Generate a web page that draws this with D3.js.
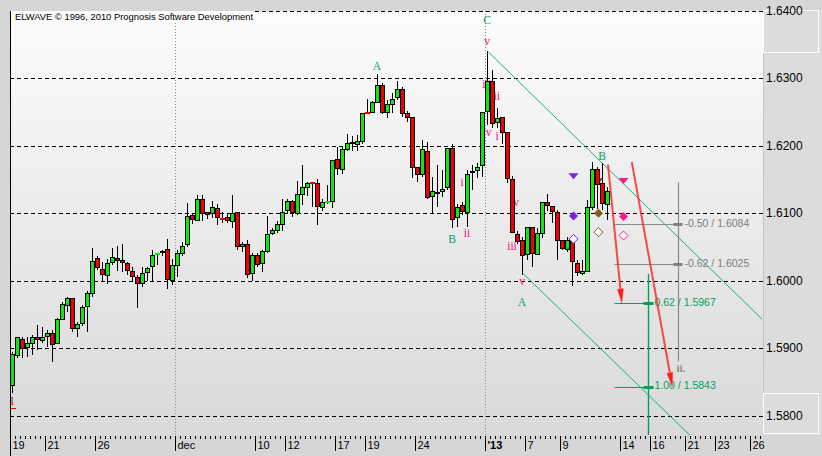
<!DOCTYPE html>
<html>
<head>
<meta charset="utf-8">
<script src="https://cdn.jsdelivr.net/npm/d3@7"></script>
<style>
    body { margin: 0; background: #d6d6d6; }
    svg { display: block; }
</style>
</head>
<body>
<div id="chart"></div>
<script>
// 8-hour bars
const opens = [
    1.5844, 1.5889, 1.5913, 1.5901, 1.5907, 1.5916, 1.5911, 1.5917, 1.5922, 1.5907,
    1.5943, 1.5963, 1.5974, 1.5929, 1.5937, 1.5961, 1.5981, 1.6033, 1.6017, 1.6007,
    1.6027, 1.6033, 1.6030, 1.6026, 1.6014, 1.6004, 1.5996, 1.6012, 1.6021, 1.6040,
    1.6044, 1.6046, 1.6000, 1.6022, 1.6040, 1.6053, 1.6096, 1.6089, 1.6121, 1.6101,
    1.6099, 1.6107, 1.6093, 1.6093, 1.6088, 1.6101, 1.6050, 1.6054, 1.6010, 1.6037,
    1.6026, 1.6043, 1.6070, 1.6074, 1.6084, 1.6104, 1.6117, 1.6100, 1.6128, 1.6138,
    1.6146, 1.6144, 1.6109, 1.6117, 1.6117, 1.6179, 1.6165, 1.6195, 1.6205, 1.6202,
    1.6206, 1.6250, 1.6250, 1.6265, 1.6290, 1.6250, 1.6262, 1.6271, 1.6283, 1.6248,
    1.6242, 1.6168, 1.6158, 1.6192, 1.6125, 1.6132, 1.6132, 1.6138, 1.6196, 1.6093,
    1.6111, 1.6101, 1.6162, 1.6164, 1.6171, 1.6251, 1.6296, 1.6234, 1.6242, 1.6220,
    1.6150, 1.6069, 1.6059, 1.6039, 1.6079, 1.6039, 1.6070, 1.6116, 1.6110, 1.6101,
    1.6059, 1.6046, 1.6059, 1.6026, 1.6011, 1.6013, 1.6109, 1.6165, 1.6144, 1.6113
];
const highs = [
    1.5894, 1.5917, 1.5917, 1.5916, 1.5919, 1.5934, 1.5931, 1.5927, 1.5927, 1.5944,
    1.5968, 1.5976, 1.5975, 1.5939, 1.5964, 1.5985, 1.6049, 1.6037, 1.6027, 1.6032,
    1.6048, 1.6051, 1.6054, 1.6028, 1.6021, 1.6008, 1.6021, 1.6021, 1.6046, 1.6041,
    1.6046, 1.6062, 1.6032, 1.6046, 1.6058, 1.6115, 1.6099, 1.6127, 1.6127, 1.6102,
    1.6118, 1.6114, 1.6102, 1.6099, 1.6127, 1.6101, 1.6058, 1.6060, 1.6041, 1.6041,
    1.6045, 1.6096, 1.6078, 1.6088, 1.6121, 1.6121, 1.6120, 1.6148, 1.6172, 1.6147,
    1.6147, 1.6151, 1.6121, 1.6142, 1.6178, 1.6198, 1.6199, 1.6218, 1.6215, 1.6216,
    1.6249, 1.6269, 1.6267, 1.6306, 1.6293, 1.6268, 1.6279, 1.6296, 1.6288, 1.6251,
    1.6243, 1.6169, 1.6209, 1.6206, 1.6154, 1.6172, 1.6164, 1.6196, 1.6203, 1.6114,
    1.6117, 1.6164, 1.6172, 1.6174, 1.6250, 1.6340, 1.6312, 1.6256, 1.6242, 1.6220,
    1.6155, 1.6073, 1.6065, 1.6080, 1.6080, 1.6078, 1.6117, 1.6129, 1.6111, 1.6105,
    1.6060, 1.6065, 1.6059, 1.6031, 1.6031, 1.6120, 1.6176, 1.6169, 1.6174, 1.6139
];
const lows = [
    1.5833, 1.5886, 1.5885, 1.5887, 1.5889, 1.5897, 1.5907, 1.5901, 1.5880, 1.5906,
    1.5942, 1.5954, 1.5924, 1.5917, 1.5933, 1.5924, 1.5976, 1.6016, 1.5998, 1.5995,
    1.6023, 1.6015, 1.6013, 1.6008, 1.6000, 1.5960, 1.5991, 1.6000, 1.6000, 1.6023,
    1.6036, 1.5988, 1.5994, 1.6006, 1.6036, 1.6050, 1.6084, 1.6088, 1.6089, 1.6092,
    1.6093, 1.6082, 1.6085, 1.6085, 1.6078, 1.6045, 1.6042, 1.6004, 1.6000, 1.6021,
    1.6013, 1.6041, 1.6068, 1.6070, 1.6073, 1.6099, 1.6095, 1.6097, 1.6112, 1.6126,
    1.6110, 1.6083, 1.6104, 1.6113, 1.6108, 1.6157, 1.6158, 1.6193, 1.6193, 1.6193,
    1.6202, 1.6247, 1.6248, 1.6263, 1.6247, 1.6241, 1.6248, 1.6268, 1.6243, 1.6236,
    1.6153, 1.6147, 1.6154, 1.6121, 1.6101, 1.6109, 1.6124, 1.6134, 1.6078, 1.6080,
    1.6097, 1.6080, 1.6135, 1.6153, 1.6154, 1.6231, 1.6226, 1.6226, 1.6203, 1.6145,
    1.6072, 1.6055, 1.6008, 1.6031, 1.6021, 1.6038, 1.6063, 1.6104, 1.6085, 1.6030,
    1.6046, 1.6043, 1.5992, 1.6007, 1.6008, 1.6013, 1.6105, 1.6107, 1.6105, 1.6090
];
const closes = [
    1.5890, 1.5915, 1.5900, 1.5907, 1.5916, 1.5913, 1.5915, 1.5921, 1.5906, 1.5942,
    1.5964, 1.5973, 1.5929, 1.5935, 1.5960, 1.5981, 1.6029, 1.6020, 1.6009, 1.6025,
    1.6035, 1.6030, 1.6027, 1.6015, 1.6006, 1.5996, 1.6011, 1.6018, 1.6038, 1.6041,
    1.6044, 1.6002, 1.6023, 1.6040, 1.6050, 1.6095, 1.6091, 1.6120, 1.6100, 1.6098,
    1.6109, 1.6094, 1.6092, 1.6089, 1.6100, 1.6050, 1.6054, 1.6009, 1.6037, 1.6024,
    1.6043, 1.6068, 1.6074, 1.6083, 1.6101, 1.6118, 1.6101, 1.6128, 1.6138, 1.6144,
    1.6144, 1.6110, 1.6116, 1.6118, 1.6178, 1.6167, 1.6195, 1.6204, 1.6205, 1.6206,
    1.6248, 1.6248, 1.6264, 1.6289, 1.6250, 1.6261, 1.6268, 1.6284, 1.6248, 1.6242,
    1.6168, 1.6158, 1.6194, 1.6124, 1.6133, 1.6132, 1.6135, 1.6196, 1.6090, 1.6109,
    1.6102, 1.6158, 1.6162, 1.6168, 1.6250, 1.6296, 1.6233, 1.6241, 1.6220, 1.6152,
    1.6072, 1.6058, 1.6038, 1.6079, 1.6040, 1.6070, 1.6116, 1.6111, 1.6102, 1.6060,
    1.6048, 1.6060, 1.6028, 1.6012, 1.6014, 1.6109, 1.6165, 1.6143, 1.6115, 1.6133
];

// time axis: bar index of each labelled tick
const tickIndex = [0, 7, 17, 33, 49, 55, 65, 71, 81, 95, 103, 110, 122, 128, 135, 141, 148];
const tickLabels = ['19', '21', '26', 'dec', '10', '12', '17', '19', '24', "'13", '7', '9', '14', '16', '21', '23', '26'];
const separatorIndex = [33, 95];
const priceTicks = [1.58, 1.59, 1.60, 1.61, 1.62, 1.63, 1.64];

// Elliott wave labels: text, bar index, price, kind
const waveText  = ['A', 'B', 'C', 'v', 'iii', 'ii', 'iv', 'i', 'i', 'ii', 'v', 'iii', 'v', 'A', 'B'];
const waveIndex = [73, 88, 95, 95, 95, 97, 95, 97, 90, 91, 100.8, 100, 102, 102, 118];
const wavePrice = [1.6317, 1.6060, 1.6384, 1.6353, 1.6289, 1.6272, 1.6219, 1.6213, 1.6145, 1.6069, 1.6114, 1.6050, 1.5997, 1.5967, 1.6183];
const waveKind  = ['major', 'major', 'major', 'minor', 'minor', 'minor', 'minor', 'minor', 'minor', 'minor', 'minor', 'minor', 'minor', 'major', 'major'];

// channel lines: [index, price] pairs
const upperChannel = [[95.3, 1.6339], [150, 1.5943]];
const lowerChannel = [[102.3, 1.6010], [150, 1.5667]];

// target markers (triangle, filled diamond, hollow diamond) per column
const markerIndex = [112.3, 117.3, 122.3];
const markerTriangle = [1.6155, 1.6148, 1.6148];
const markerFilled = [1.6096, 1.6100, 1.6095];
const markerHollow = [1.6062, 1.6072, 1.6067];
const markerColors = ['#7b22e0', '#8b5a14', '#ff1a8c'];

// projections
const grayLevels = [1.6084, 1.6025];
const grayLabels = ['-0.50 / 1.6084', '-0.62 / 1.6025'];
const grayColumn = { index: 133.3, from: 1.6146, to: 1.5880 };
const greenLevels = [1.5967, 1.5843];
const greenLabels = ['0.62 / 1.5967', '1.00 / 1.5843'];
const greenColumn = { index: 127.3, from: 1.6010, to: 1.5770 };
const levelStart = 120.5;

// red forecast arrows: [startIndex, startPrice, endIndex, endPrice]
const arrows = [
    [119.2, 1.6172, 121.96, 1.5967],
    [123.96, 1.6176, 132.06, 1.5843]
];

const config = {
    width: 822,
    height: 456,
    plot: { left: 10, right: 763, top: 11, bottom: 435 },
    green: '#00a070',
    magenta: '#ff0a84',
    font: '"Liberation Sans", Arial, sans-serif',
    serif: '"Liberation Serif", "Times New Roman", serif'
};

const x = d3.scaleLinear().domain([0, 150]).range([12, 762]);
const y = d3.scaleLinear().domain([1.58, 1.64]).range([415.5, 11]);
const tickX = i => Math.round(x(i)) - 1.5;

const bars = opens.map((o, i) => ({
    i, open: o, high: highs[i], low: lows[i], close: closes[i]
}));

const svg = d3.select('#chart').append('svg')
    .attr('width', config.width)
    .attr('height', config.height);

const defs = svg.append('defs');
const grad = defs.append('linearGradient')
    .attr('id', 'bg').attr('x1', 0).attr('y1', 0).attr('x2', 0).attr('y2', 1);
grad.append('stop').attr('offset', '0%').attr('stop-color', '#fcfcfc');
grad.append('stop').attr('offset', '100%').attr('stop-color', '#d9d9d9');
defs.append('clipPath').attr('id', 'plotclip')
    .append('rect')
        .attr('x', config.plot.left).attr('y', config.plot.top)
        .attr('width', config.plot.right - config.plot.left)
        .attr('height', config.plot.bottom - config.plot.top);

svg.append('rect')
    .attr('width', config.width).attr('height', config.height)
    .attr('fill', '#d6d6d6');

svg.append('rect')
    .attr('x', config.plot.left).attr('y', config.plot.top)
    .attr('width', config.plot.right - config.plot.left)
    .attr('height', config.plot.bottom - config.plot.top)
    .attr('fill', 'url(#bg)');

const plot = svg.append('g').attr('clip-path', 'url(#plotclip)');

// grid
plot.selectAll('.grid')
        .data(priceTicks)
    .enter().append('line')
        .attr('x1', config.plot.left).attr('x2', config.plot.right)
        .attr('y1', d => Math.round(y(d)) + 0.5)
        .attr('y2', d => Math.round(y(d)) + 0.5)
        .attr('stroke', '#000')
        .attr('stroke-dasharray', '4,3');

plot.selectAll('.sep')
        .data(separatorIndex)
    .enter().append('line')
        .attr('x1', d => tickX(d)).attr('x2', d => tickX(d))
        .attr('y1', config.plot.top).attr('y2', config.plot.bottom)
        .attr('stroke', '#8c8c8c')
        .attr('stroke-dasharray', '1,2');

// header
svg.append('rect')
    .attr('x', 11).attr('y', 11).attr('width', 244).attr('height', 11)
    .attr('fill', '#fbfbfb');
svg.append('text')
    .attr('x', 15).attr('y', 19.5)
    .attr('font-family', config.font).attr('font-size', 9)
    .attr('textLength', 238).attr('lengthAdjust', 'spacingAndGlyphs')
    .text('ELWAVE © 1996, 2010 Prognosis Software Development');

// channel lines
const line = d3.line().x(d => x(d[0])).y(d => y(d[1]));
plot.selectAll('.channel')
        .data([upperChannel, lowerChannel])
    .enter().append('path')
        .attr('d', line)
        .attr('fill', 'none')
        .attr('stroke', '#00a878')
        .attr('stroke-width', 0.9);

// gray projection
plot.append('line')
    .attr('x1', x(grayColumn.index)).attr('x2', x(grayColumn.index))
    .attr('y1', y(grayColumn.from)).attr('y2', y(grayColumn.to))
    .attr('stroke', '#8a8a8a').attr('stroke-width', 1.2);
grayLevels.forEach((lv, k) => {
    plot.append('line')
        .attr('x1', x(levelStart)).attr('x2', x(grayColumn.index))
        .attr('y1', Math.round(y(lv)) + 0.5).attr('y2', Math.round(y(lv)) + 0.5)
        .attr('stroke', '#8a8a8a');
    plot.append('rect')
        .attr('x', x(grayColumn.index) - 5).attr('y', Math.round(y(lv)) - 1)
        .attr('width', 9).attr('height', 3)
        .attr('fill', '#808080');
    plot.append('text')
        .attr('x', x(grayColumn.index) + 6).attr('y', y(lv))
        .attr('dominant-baseline', 'middle')
        .attr('font-family', config.font).attr('font-size', 10.5)
        .attr('fill', '#7c7c7c')
        .text(grayLabels[k]);
});
plot.append('text')
    .attr('x', x(grayColumn.index) - 2).attr('y', y(grayColumn.to) + 10)
    .attr('font-family', config.serif).attr('font-size', 11).attr('font-weight', 'bold')
    .attr('fill', '#8a8a8a')
    .text('ii.');

// green projection
plot.append('line')
    .attr('x1', x(greenColumn.index)).attr('x2', x(greenColumn.index))
    .attr('y1', y(greenColumn.from)).attr('y2', y(greenColumn.to))
    .attr('stroke', '#00a060').attr('stroke-width', 1.4);
greenLevels.forEach((lv, k) => {
    plot.append('line')
        .attr('x1', x(levelStart)).attr('x2', x(greenColumn.index))
        .attr('y1', Math.round(y(lv)) + 0.5).attr('y2', Math.round(y(lv)) + 0.5)
        .attr('stroke', '#00a060');
    plot.append('rect')
        .attr('x', x(greenColumn.index) - 5).attr('y', Math.round(y(lv)) - 1)
        .attr('width', 10).attr('height', 3)
        .attr('fill', '#00a060');
    plot.append('text')
        .attr('x', x(greenColumn.index) + 6).attr('y', y(lv))
        .attr('dominant-baseline', 'middle')
        .attr('font-family', config.font).attr('font-size', 10.5)
        .attr('fill', '#00a060')
        .text(greenLabels[k]);
});

// wave labels (drawn under the bars)
plot.selectAll('.wave')
        .data(waveText)
    .enter().append('text')
        .attr('x', (d, k) => x(waveIndex[k]))
        .attr('y', (d, k) => y(wavePrice[k]))
        .attr('text-anchor', 'middle')
        .attr('dominant-baseline', 'middle')
        .attr('font-family', config.serif)
        .attr('font-size', 11.5)
        .attr('fill', (d, k) => waveKind[k] === 'major' ? config.green : config.magenta)
        .text(d => d);

plot.append('text')
    .attr('x', x(0)).attr('y', y(1.5820))
    .attr('text-anchor', 'middle').attr('dominant-baseline', 'middle')
    .attr('font-family', config.serif).attr('font-size', 12)
    .attr('fill', '#e00000')
    .text('1');
plot.append('line')
    .attr('x1', x(0) - 2).attr('x2', x(0) + 4)
    .attr('y1', y(1.5820) + 6.5).attr('y2', y(1.5820) + 6.5)
    .attr('stroke', '#e00000');

// triangles
plot.selectAll('.tri')
        .data(markerIndex)
    .enter().append('path')
        .attr('transform', (d, k) => 'translate(' + x(d) + ',' + y(markerTriangle[k]) + ')')
        .attr('d', 'M-5,-3L5,-3L0,3Z')
        .attr('fill', (d, k) => markerColors[k]);

// candles
const candle = plot.selectAll('.bar')
        .data(bars)
    .enter().append('g')
        .attr('shape-rendering', 'crispEdges');

candle.append('line')
    .attr('x1', d => Math.round(x(d.i)) + 0.5)
    .attr('x2', d => Math.round(x(d.i)) + 0.5)
    .attr('y1', d => y(d.high))
    .attr('y2', d => y(d.low))
    .attr('stroke', '#000');

candle.each(function (d) {
    const g = d3.select(this);
    const cx = Math.round(x(d.i));
    const top = y(Math.max(d.open, d.close));
    const bottom = y(Math.min(d.open, d.close));
    const fill = d.close > d.open ? '#11e611' : (d.close < d.open ? '#f20000' : '#000');
    if (bottom - top < 2) {
        g.append('rect')
            .attr('x', cx - 2).attr('y', Math.round(top))
            .attr('width', 5).attr('height', 1.5)
            .attr('fill', fill);
    } else {
        g.append('rect')
            .attr('x', cx - 1.5).attr('y', top)
            .attr('width', 4).attr('height', bottom - top)
            .attr('fill', fill)
            .attr('stroke', '#000');
    }
});

// diamonds
const diamond = 'M0,-4.5L4.5,0L0,4.5L-4.5,0Z';
plot.selectAll('.dfill')
        .data(markerIndex)
    .enter().append('path')
        .attr('transform', (d, k) => 'translate(' + x(d) + ',' + y(markerFilled[k]) + ')')
        .attr('d', diamond)
        .attr('fill', (d, k) => markerColors[k]);
plot.selectAll('.dhollow')
        .data(markerIndex)
    .enter().append('path')
        .attr('transform', (d, k) => 'translate(' + x(d) + ',' + y(markerHollow[k]) + ')')
        .attr('d', diamond)
        .attr('fill', '#fff')
        .attr('stroke', (d, k) => markerColors[k]);

// forecast arrows
arrows.forEach(a => {
    const x1 = x(a[0]), y1 = y(a[1]), x2 = x(a[2]), y2 = y(a[3]);
    const ang = Math.atan2(y2 - y1, x2 - x1);
    const len = 14, half = 3;
    const bx = x2 - len * Math.cos(ang), by = y2 - len * Math.sin(ang);
    plot.append('line')
        .attr('x1', x1).attr('y1', y1).attr('x2', bx).attr('y2', by)
        .attr('stroke', '#ff2a2a').attr('stroke-width', 2)
        .attr('stroke-opacity', 0.85);
    plot.append('path')
        .attr('d', 'M' + x2 + ',' + y2
            + 'L' + (bx + half * Math.sin(ang)) + ',' + (by - half * Math.cos(ang))
            + 'L' + (bx - half * Math.sin(ang)) + ',' + (by + half * Math.cos(ang)) + 'Z')
        .attr('fill', '#ff1a1a')
        .attr('stroke', '#ff5050').attr('stroke-width', 0.6);
});

// plot border left
svg.append('line')
    .attr('x1', config.plot.left + 0.5).attr('x2', config.plot.left + 0.5)
    .attr('y1', config.plot.top).attr('y2', config.height)
    .attr('stroke', '#000');

// right axis
const ra = svg.append('g');
ra.append('rect')
    .attr('x', config.plot.right).attr('y', config.plot.top - 1)
    .attr('width', config.width - config.plot.right).attr('height', config.plot.bottom - config.plot.top + 1)
    .attr('fill', '#dcdcdc');
ra.append('line')
    .attr('x1', config.plot.right + 0.5).attr('x2', config.plot.right + 0.5)
    .attr('y1', config.plot.top - 1).attr('y2', config.plot.bottom)
    .attr('stroke', '#c4c4c4');
ra.append('rect')
    .attr('x', config.plot.right + 0.5).attr('y', 10.5)
    .attr('width', 55).attr('height', 42)
    .attr('fill', 'none').attr('stroke', '#fff');
ra.append('rect')
    .attr('x', config.plot.right + 0.5).attr('y', 393.5)
    .attr('width', 55).attr('height', 40)
    .attr('fill', 'none').attr('stroke', '#fff');
ra.selectAll('.plabel')
        .data(priceTicks)
    .enter().append('text')
        .attr('x', config.plot.right + 3)
        .attr('y', d => y(d) + 4)
        .attr('font-family', config.font)
        .attr('font-size', 12)
        .attr('fill', '#000')
        .text(d => d.toFixed(4));

// bottom axis
const ba = svg.append('g').attr('shape-rendering', 'crispEdges');
ba.selectAll('.minor')
        .data(d3.range(0, 151))
    .enter().append('line')
        .attr('x1', d => tickX(d)).attr('x2', d => tickX(d))
        .attr('y1', 436).attr('y2', 438.5)
        .attr('stroke', '#000');
ba.selectAll('.major')
        .data(tickIndex)
    .enter().append('line')
        .attr('x1', d => tickX(d)).attr('x2', d => tickX(d))
        .attr('y1', 436).attr('y2', 451)
        .attr('stroke', '#000');
svg.selectAll('.tlabel')
        .data(tickLabels)
    .enter().append('text')
        .attr('x', (d, k) => tickX(tickIndex[k]) + 2)
        .attr('y', 449)
        .attr('font-family', config.font)
        .attr('font-size', 11)
        .attr('font-weight', d => d === "'13" ? 'bold' : 'normal')
        .attr('fill', '#000')
        .text(d => d);
</script>
</body>
</html>
